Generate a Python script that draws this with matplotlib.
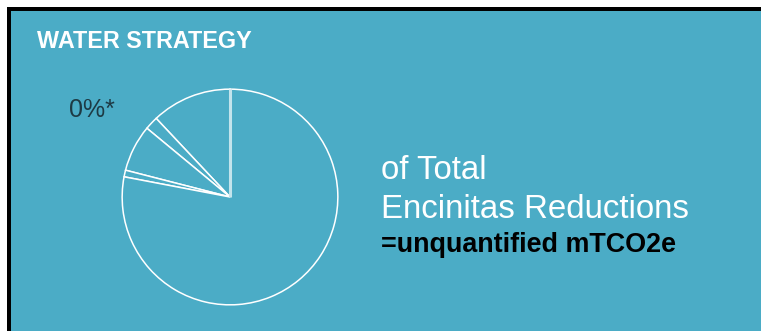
import matplotlib.pyplot as plt
from matplotlib.patches import Rectangle

# strategy shares (percent), drawn counter-clockwise from 12 o'clock
shares = [12, 2, 7, 1, 78]
title = "WATER STRATEGY"
pct_label = "0%*"
headline = ["of Total", "Encinitas Reductions"]
unit_line = "=unquantified mTCO2e"

teal = "#4bacc6"
W, H = 761, 331

plt.rcParams['font.family'] = ['Liberation Sans', 'DejaVu Sans']

fig = plt.figure(figsize=(W / 100, H / 100), dpi=100)
fig.patch.set_facecolor("white")


def fx(px):
    return px / W


def fy(py):
    return 1 - py / H


# black frame (left + top) and teal panel
fig.patches.append(Rectangle((fx(7), 0), 1 - fx(7), fy(7), transform=fig.transFigure,
                             facecolor="black", edgecolor="none", zorder=0))
fig.patches.append(Rectangle((fx(11), 0), 1 - fx(11), fy(11), transform=fig.transFigure,
                             facecolor=teal, edgecolor="none", zorder=0))

# pie
cx, cy, r = 230, 197, 110
ax = fig.add_axes([fx(cx - r), fy(cy + r), 2 * r / W, 2 * r / H])
ax.set_zorder(2)
ax.pie(shares, startangle=90, counterclock=True, radius=1,
       wedgeprops=dict(facecolor=teal, edgecolor="white", linewidth=1.1))
ax.plot([0, 0], [0, 1], color="#c3e4ec", lw=2.2, solid_capstyle="butt")
ax.set_xlim(-1.02, 1.02)
ax.set_ylim(-1.02, 1.02)
ax.set_aspect("equal")
ax.axis("off")

fig.text(fx(37), fy(48), title, color="white", fontsize=16.8, fontweight="bold",
         va="baseline", ha="left", zorder=3)
fig.text(fx(69), fy(117), pct_label, color="#1d3a44", fontsize=18,
         va="baseline", ha="left", zorder=3)

fig.text(fx(381), fy(179), headline[0], color="white", fontsize=23.8,
         va="baseline", ha="left", zorder=3)
fig.text(fx(381), fy(218), headline[1], color="white", fontsize=23.8,
         va="baseline", ha="left", zorder=3)
fig.text(fx(381), fy(252), unit_line, color="black", fontsize=19.4, fontweight="bold",
         va="baseline", ha="left", zorder=3)

fig.savefig("out.png", dpi=100, facecolor=fig.get_facecolor())
